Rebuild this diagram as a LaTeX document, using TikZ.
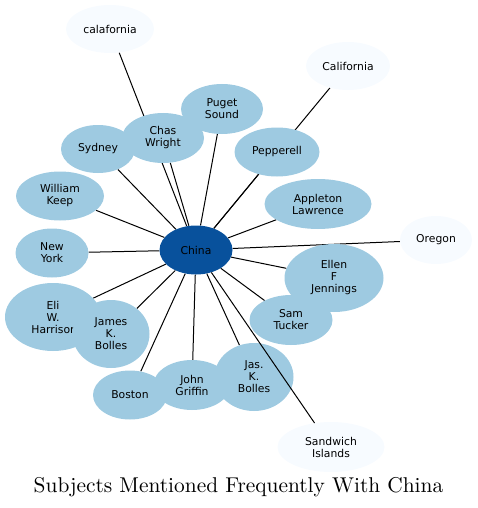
\documentclass[tikz,border=0pt]{standalone}
\usepackage{fontspec}
\usepackage{xcolor}
\usepackage{graphicx}
\usepackage{tikz}
\usetikzlibrary{shapes.geometric, backgrounds}

\newfontfamily\nodefont{DejaVu Sans}

\definecolor{hubblue}{HTML}{08519C}
\definecolor{midblue}{HTML}{9ECAE1}
\definecolor{paleblue}{HTML}{F7FBFF}

\begin{document}
\begin{tikzpicture}[x=1pt, y=-1pt,
    subject/.style={ellipse, inner sep=0pt, fill=midblue, align=center,
        font=\nodefont\fontsize{10.8}{12}\selectfont},
    hub/.style={subject, fill=hubblue},
    faint/.style={subject, fill=paleblue},
    edge/.style={line width=1pt}]

    % =================================================================
    % 1. KHUNG HINH
    % =================================================================
    \useasboundingbox (0,0) rectangle (477,508);

    % =================================================================
    % 2. CAC NUT CHU DE
    % =================================================================
    \node[faint, minimum width=88, minimum height=48] (Calafornia) at (110,29) {calafornia};
    \node[faint, minimum width=84, minimum height=48] (California) at (348,66) {California};
    \node[faint, minimum width=72, minimum height=48] (Oregon) at (436,240) {Oregon};
    \node[faint, minimum width=107, minimum height=50] (SandwichIslands) at (331,447) {Sandwich\\Islands};

    \node[subject, minimum width=82, minimum height=50] (PugetSound) at (222,109) {Puget\\Sound};
    \node[subject, minimum width=82, minimum height=50] (ChasWright) at (163,138) {Chas\\Wright};
    \node[subject, minimum width=74, minimum height=48] (Sydney) at (98,149) {Sydney};
    \node[subject, minimum width=88, minimum height=49] (WilliamKeep) at (60,196) {William\\Keep};
    \node[subject, minimum width=85, minimum height=49] (Pepperell) at (277,152) {Pepperell};
    \node[subject, minimum width=107, minimum height=50] (AppletonLawrence) at (318,204) {Appleton\\Lawrence};
    \node[subject, minimum width=73, minimum height=49] (NewYork) at (52,253) {New\\York};
    \node[subject, minimum width=96, minimum height=68] (EliHarrisor) at (53,317) {Eli\\W.\\Harrisor};
    \node[subject, minimum width=77, minimum height=68] (JamesBolles) at (111,334) {James\\K.\\Bolles};
    \node[subject, minimum width=74, minimum height=49] (Boston) at (130,395) {Boston};
    \node[subject, minimum width=77, minimum height=50] (JohnGriffin) at (192,385) {John\\Griffin};
    \node[subject, minimum width=79, minimum height=68] (JasBolles) at (254,377) {Jas.\\K.\\Bolles};
    \node[subject, minimum width=99, minimum height=68] (EllenJennings) at (334,278) {Ellen\\F\\Jennings};
    \node[subject, minimum width=83, minimum height=50] (SamTucker) at (291,320) {Sam\\Tucker};

    \node[hub, minimum width=73, minimum height=49] (China) at (196,250) {China};

    % =================================================================
    % 3. CAC CANH NOI TU CHINA (nam duoi cac nut)
    % =================================================================
    \begin{pgfonlayer}{background}
        \foreach \other in {Calafornia, ChasWright, PugetSound, Sydney, WilliamKeep,
            NewYork, EliHarrisor, JamesBolles, Boston, JohnGriffin, JasBolles,
            SamTucker, EllenJennings, Oregon, AppletonLawrence, Pepperell, California}
            \draw[edge] (China) -- (\other);
    \end{pgfonlayer}

    % Canh toi Sandwich Islands ve de len Jas. K. Bolles
    \draw[edge] (China) -- (SandwichIslands);

    % =================================================================
    % 4. TIEU DE
    % =================================================================
    \node[anchor=base, inner sep=0pt] (Title) at (238.5,492)
        {\scalebox{2.14}{\fontsize{10}{12}\selectfont Subjects Mentioned Frequently With China}};

\end{tikzpicture}
\end{document}
